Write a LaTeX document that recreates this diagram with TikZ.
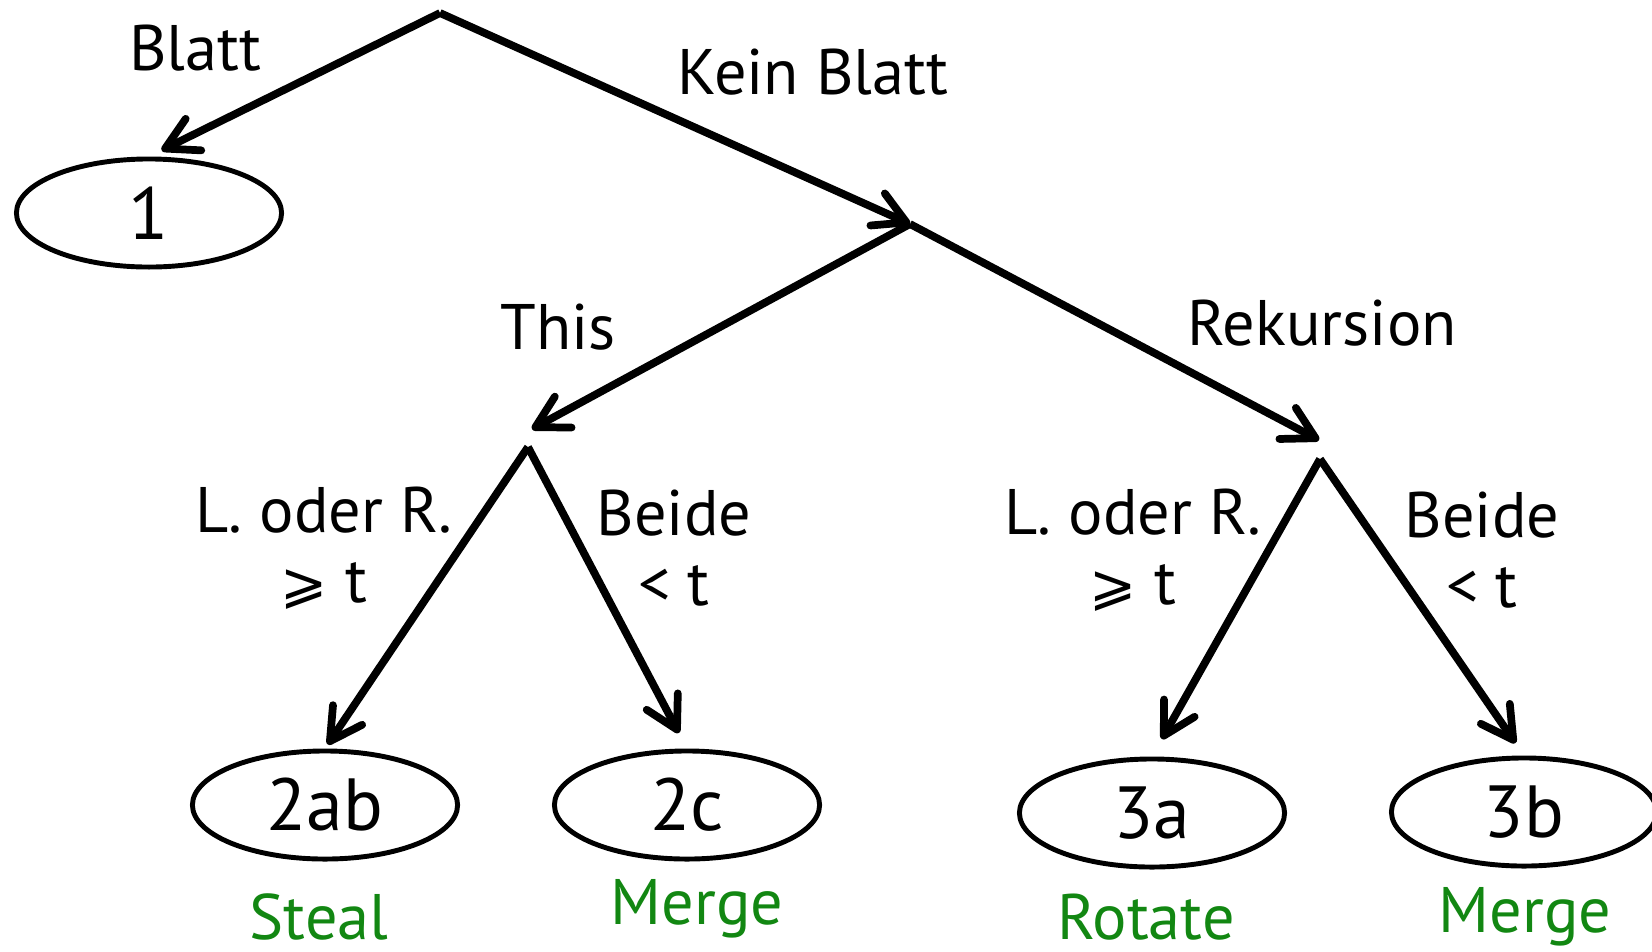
\documentclass[tikz,border=0pt]{standalone}
\usepackage{fontspec}
\setmainfont{PT Sans}
\newfontfamily\symfont{DejaVu Sans}
\usepackage{tikz}
\usetikzlibrary{shapes}
\usetikzlibrary{arrows.meta}
\definecolor{opgreen}{RGB}{18,135,18}
\newcommand{\geqsl}{{\symfont\fontsize{16}{20}\selectfont ⩾}}
\tikzset{
  treenode/.style = {align=center, inner sep=0pt, text centered},
  case_node/.style = {treenode, ellipse, draw=black, line width=1.4pt,
    minimum width=2.65cm, minimum height=1.08cm,
    font=\fontsize{21}{25}\selectfont},% Fall, Ellipse
  cond_label/.style = {treenode, font=\fontsize{18.3}{20}\selectfont},% Bedingung an der Kante
  op_label/.style = {treenode, text=opgreen,
    font=\fontsize{18.3}{20}\selectfont},% Operation, gruen
  branch/.style = {line width=2.2pt,
    -{Straight Barb[length=9pt, width=10pt, round]}}% Kante mit Pfeil
}
\begin{document}
\begin{tikzpicture}[x=0.01cm, y=-0.01cm]
    \useasboundingbox (0,0) rectangle (1652,951);

    \coordinate (root) at (440,13);
    \coordinate (no_leaf) at (910,224);
    \coordinate (this_end) at (532,429);
    \coordinate (this_top) at (528,447);
    \coordinate (rek_end) at (1319,440);
    \coordinate (rek_top) at (1320,459);

    \node [case_node] (c1) at (149,213) {1};
    \node [case_node] (c2ab) at (325,805) {2ab};
    \node [case_node] (c2c) at (687,805) {2c};
    \node [case_node] (c3a) at (1152,813) {3a};
    \node [case_node] (c3b) at (1524,812) {3b};

    \draw [branch, shorten >=4pt] (root) -- (c1.north);
    \draw [branch] (root) -- (no_leaf);
    \draw [branch] (no_leaf) -- (this_end);
    \draw [branch] (no_leaf) -- (rek_end);
    \draw [branch, shorten >=1.4pt] (this_top) -- (c2ab.north);
    \draw [branch, shorten >=5pt] (this_top) -- (c2c.north);
    \draw [branch, shorten >=5.7pt] (rek_top) -- (c3a.north);
    \draw [branch, shorten >=4.3pt] (rek_top) -- (c3b.north);

    \node [cond_label] (l_blatt) at (195,48) {Blatt};
    \node [cond_label] (l_kein) at (813,72) {Kein Blatt};
    \node [cond_label] (l_this) at (558,327) {This};
    \node [cond_label] (l_rek) at (1322,323) {Rekursion};
    \node [cond_label] (l_lr1) at (324,548) {L. oder R.\\\geqsl{} t};
    \node [cond_label] (l_both1) at (674,548) {Beide\\< t};
    \node [cond_label] (l_lr2) at (1133,550) {L. oder R.\\\geqsl{} t};
    \node [cond_label] (l_both2) at (1482,550) {Beide\\< t};

    \node [op_label] (o_steal) at (319,917) {Steal};
    \node [op_label] (o_merge1) at (697,909) {Merge};
    \node [op_label] (o_rotate) at (1146,917) {Rotate};
    \node [op_label] (o_merge2) at (1525,917) {Merge};
\end{tikzpicture}
\end{document}
